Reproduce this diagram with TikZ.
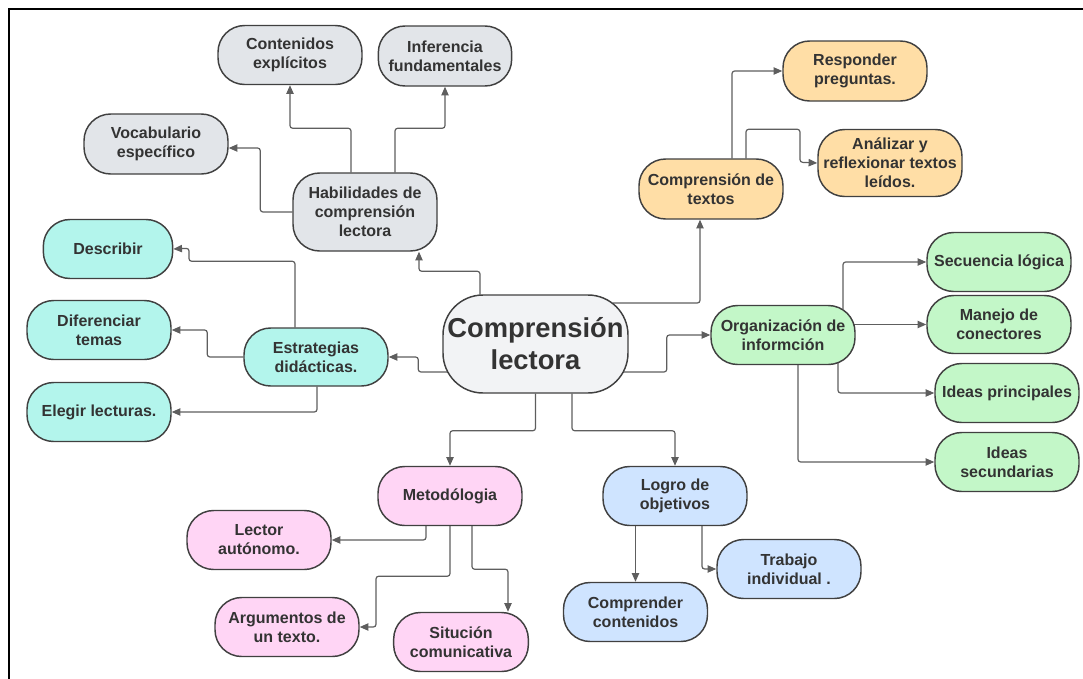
\documentclass[tikz,border=0pt]{standalone}
\usepackage{fontspec}
\setmainfont{Liberation Sans}
\usepackage{xcolor}
\usetikzlibrary{calc, arrows.meta, backgrounds}
\definecolor{borde}{HTML}{404040}
\definecolor{linea}{HTML}{5E5E5E}
\definecolor{texto}{HTML}{333333}
\definecolor{gris}{HTML}{E2E5E9}
\definecolor{grisc}{HTML}{F2F3F5}
\definecolor{naranja}{HTML}{FFDEA6}
\definecolor{verde}{HTML}{C3F7C8}
\definecolor{turquesa}{HTML}{B3F5EC}
\definecolor{rosa}{HTML}{FFD5F5}
\definecolor{azul}{HTML}{CFE4FF}
\tikzset{
  mc/.style = {draw=borde, line width=1.1pt, rounded corners=20pt,
    align=center, inner sep=0pt, text=texto,
    font=\fontsize{12}{14.3}\selectfont\bfseries,
    minimum width=108pt, minimum height=44.25pt},% mapa conceptual, nodo
  mc_c/.style = {mc, fill=grisc, rounded corners=30pt,
    minimum width=138.75pt, minimum height=73.5pt,
    font=\fontsize{20.5}{24}\selectfont\bfseries},% nodo central
  mc_g/.style = {mc, fill=gris},% habilidades
  mc_t/.style = {mc, fill=turquesa},% estrategias
  mc_r/.style = {mc, fill=rosa},% metodologia
  mc_a/.style = {mc, fill=azul},% logro
  mc_n/.style = {mc, fill=naranja},% textos
  mc_v/.style = {mc, fill=verde},% organizacion
  flecha/.style = {draw=linea, line width=0.9pt, rounded corners=2pt,
    -{Triangle[length=6.5pt, width=5.5pt]}}
}
\begin{document}
\begin{tikzpicture}[x=0.75pt, y=-0.75pt]
\useasboundingbox (0,0) rectangle (1083,679);
\draw[line width=1.5pt] (9,679) -- (9,9) -- (1083,9);

\node[mc_c] (cl) at (535.5,344) {Comprensión\\lectora};

\node[mc_g, minimum height=58.5pt] (hab) at (365,212) {Habilidades de\\comprensión\\lectora};
\node[mc_g] (cont) at (290,55) {Contenidos\\explícitos};
\node[mc_g, minimum width=100pt, minimum height=45pt] (infe) at (445,56) {Inferencia\\fundamentales};
\node[mc_g, minimum height=45pt] (voca) at (156,144) {Vocabulario\\específico};

\node[mc_t, minimum height=43.5pt] (estr) at (316,357) {Estrategias\\didácticas.};
\node[mc_t, minimum width=97pt] (desc) at (108,249) {Describir};
\node[mc_t] (dife) at (99,330) {Diferenciar\\temas};
\node[mc_t] (eleg) at (99,412) {Elegir lecturas.};

\node[mc_r] (meto) at (450,496) {Metodólogia};
\node[mc_r] (lect) at (259,540) {Lector\\autónomo.};
\node[mc_r] (argu) at (287,627) {Argumentos de\\un texto.};
\node[mc_r, minimum width=101pt] (situ) at (461,642) {Situción\\comunicativa};

\node[mc_a] (logr) at (675,496) {Logro de\\objetivos};
\node[mc_a] (comp) at (635.5,612) {Comprender\\contenidos};
\node[mc_a] (trab) at (789,569) {Trabajo\\individual .};

\node[mc_n, minimum height=45pt] (ctex) at (711,189) {Comprensión de\\textos};
\node[mc_n, minimum height=45pt] (resp) at (855,71) {Responder\\preguntas.};
\node[mc_n, minimum height=50.25pt] (anal) at (890,163) {Análizar y\\reflexionar textos\\leídos.};

\node[mc_v] (orga) at (783,335) {Organización de\\informción};
\node[mc_v] (secu) at (999,262) {Secuencia lógica};
\node[mc_v, minimum height=43.5pt] (mane) at (999,324.5) {Manejo de\\conectores};
\node[mc_v] (ipri) at (1007,393) {Ideas principales};
\node[mc_v] (isec) at (1007,462) {Ideas\\secundarias};

\begin{scope}[on background layer]
% centro
\draw[flecha] ($(cl.north)+(-55.5,0)$) -- ++(0,-23) -| ($(hab.south)+(54,0)$);
\draw[flecha] ($(cl.west)+(6,28)$) -- ++(-30,0) |- (estr.east);
\draw[flecha] (cl.south) -- ++(0,37) -| (meto.north);
\draw[flecha] ($(cl.south)+(36.5,0)$) -- ++(0,37) -| (logr.north);
\draw[flecha] ($(cl.east)+(-16,-41)$) -| ($(ctex.south)+(-11,0)$);
\draw[flecha] ($(cl.east)+(-6,28)$) -- ++(44,0) |- (orga.west);
% habilidades
\draw[flecha] ($(hab.north)+(-14,0)$) -- ++(0,-44) -| (cont.south);
\draw[flecha] ($(hab.north)+(30,0)$) -- ++(0,-44) -| (infe.south);
\draw[flecha] (hab.west) -- ++(-32,0) |- ($(voca.east)+(0,4)$);
% estrategias
\draw[flecha] ($(estr.north)+(-21,0)$) -- ++(0,-66) -| ++(-106,-13) -- (desc.east);
\draw[flecha] (estr.west) -- ++(-36,0) |- (dife.east);
\draw[flecha] ($(estr.south)+(1,0)$) |- (eleg.east);
% metodologia
\draw[flecha] ($(meto.south)+(-24,0)$) |- (lect.east);
\draw[flecha] (meto.south) -- ++(0,50) -- ++(-74,0) |- (argu.east);
\draw[flecha] ($(meto.south)+(22,0)$) -- ++(0,43) -| ($(situ.north)+(47,0)$);
% logro
\draw[flecha] ($(logr.south)+(-39.5,0)$) -- (comp.north);
\draw[flecha] ($(logr.south)+(27,0)$) |- (trab.west);
% textos
\draw[flecha] ($(ctex.north)+(21,0)$) |- (resp.west);
\draw[flecha] ($(ctex.north)+(35,0)$) -- ++(0,-29) -| ++(54,33) -- (anal.west);
% organizacion
\draw[flecha] ($(orga.north)+(60,4)$) |- (secu.west);
\draw[flecha] ($(orga.east)+(-4,-10.5)$) -- (mane.west);
\draw[flecha] ($(orga.south)+(55,-4)$) |- (ipri.west);
\draw[flecha] ($(orga.south)+(15,0)$) |- (isec.west);
\end{scope}
\end{tikzpicture}
\end{document}
